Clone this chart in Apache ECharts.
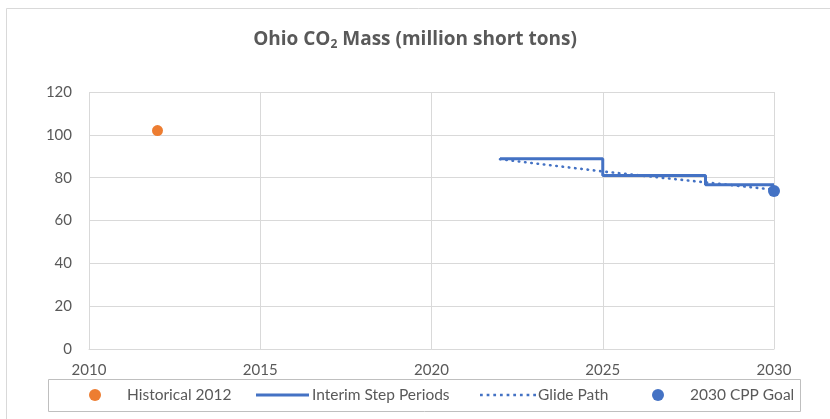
<!DOCTYPE html>
<html>
<head>
<meta charset="utf-8">
<style>
  html, body { margin: 0; padding: 0; background: #ffffff; }
  #chart { width: 830px; height: 419px; }
</style>
<script src="https://cdn.jsdelivr.net/npm/echarts@6/dist/echarts.min.js"></script>
</head>
<body>
<div id="chart"></div>
<script>
// Ohio CO2 mass: 2012 baseline, interim step periods, glide path and 2030 goal
const historicalYears = [2012];
const historicalValues = [102];

const stepYears = [2022, 2025, 2028, 2030];
const stepValues = [88.8, 81.0, 76.7, 76.7];

const glideYears = [2022, 2025, 2028, 2030];
const glideValues = [88.6, 82.9, 77.8, 74.4];

const goalYears = [2030];
const goalValues = [73.8];

const xTicks = [2010, 2015, 2020, 2025, 2030];
const yTicks = [0, 20, 40, 60, 80, 100, 120];

const seriesNames = ['Historical 2012', 'Interim Step Periods', 'Glide Path', '2030 CPP Goal'];

const zip = (xs, ys) => xs.map((x, i) => [x, ys[i]]);

const FONT = 'Lato, "Open Sans", sans-serif';
const TITLE_FONT = '"Open Sans", Lato, sans-serif';
const TEXT = '#595959';
const GRID = '#d9d9d9';
const ORANGE = '#ED7D31';
const BLUE = '#4472C4';
const LEGEND_FONT_SIZE = 15.5;

// legend icons: a solid bar for the step line, a row of dots for the glide path
const solidIcon = 'path://M0,0H54V3H0Z';
let dottedPath = 'path://';
for (let i = 0; i < 9; i++) {
  const x = i * 6.3;
  dottedPath += 'M' + x + ',0h2.6v2.6h-2.6Z';
}

// one legend block per entry so each sits at its own spot inside the box
function legendBlock(name, left, icon, width, height, textShift) {
  return {
    data: [{ name: name, icon: icon }],
    left: left,
    top: 387,
    itemWidth: width,
    itemHeight: height,
    padding: 0,
    selectedMode: false,
    textStyle: { fontFamily: FONT, fontSize: LEGEND_FONT_SIZE, color: TEXT, padding: [0, 0, 0, textShift] },
    z: 5
  };
}

const chart = echarts.init(document.getElementById('chart'), null, { renderer: 'canvas' });

chart.setOption({
  backgroundColor: '#ffffff',
  animation: false,
  title: {
    text: '{a|Ohio CO}{s|2}{a| Mass (million short tons)}',
    left: 'center',
    top: 22,
    textStyle: {
      fontWeight: 'bold',
      rich: {
        a: { fontFamily: TITLE_FONT, fontSize: 19, fontWeight: 'bold', color: TEXT, lineHeight: 26 },
        s: { fontFamily: TITLE_FONT, fontSize: 12, fontWeight: 'bold', color: TEXT, padding: [10, 0, 0, 0], lineHeight: 26 }
      }
    }
  },
  graphic: [
    {
      type: 'rect',
      shape: { x: 6.5, y: 8.5, width: 900, height: 500 },
      style: { fill: 'none', stroke: '#d9d9d9', lineWidth: 1 },
      silent: true, z: -1
    },
    {
      type: 'rect',
      shape: { x: 48.5, y: 379.5, width: 752, height: 32 },
      style: { fill: '#ffffff', stroke: '#bfbfbf', lineWidth: 1 },
      silent: true, z: 0
    }
  ],
  legend: [
    legendBlock(seriesNames[0], 89, 'circle', 12, 12, 21),
    legendBlock(seriesNames[1], 256, solidIcon, 53, 12, -2),
    legendBlock(seriesNames[2], 480, dottedPath, 56, 12, -3),
    legendBlock(seriesNames[3], 652, 'circle', 12, 12, 21)
  ],
  grid: { left: 89, right: 56, top: 92, bottom: 70, containLabel: false },
  xAxis: {
    type: 'value',
    min: xTicks[0],
    max: xTicks[xTicks.length - 1],
    interval: 5,
    axisLine: { show: true, onZero: false, lineStyle: { color: GRID, width: 1 } },
    axisTick: { show: false },
    splitLine: { show: true, lineStyle: { color: GRID, width: 1 } },
    axisLabel: {
      fontFamily: FONT, fontSize: 15, color: TEXT, margin: 14,
      formatter: v => String(v)
    }
  },
  yAxis: {
    type: 'value',
    min: yTicks[0],
    max: yTicks[yTicks.length - 1],
    interval: 20,
    axisLine: { show: false },
    axisTick: { show: false },
    splitLine: { show: true, lineStyle: { color: GRID, width: 1 } },
    axisLabel: { fontFamily: FONT, fontSize: 15, color: TEXT, margin: 17 }
  },
  series: [
    {
      name: seriesNames[0],
      type: 'scatter',
      data: zip(historicalYears, historicalValues),
      symbol: 'circle',
      symbolSize: 11,
      itemStyle: { color: ORANGE, opacity: 1 }
    },
    {
      name: seriesNames[1],
      type: 'line',
      step: 'end',
      data: zip(stepYears, stepValues),
      showSymbol: false,
      symbol: 'none',
      lineStyle: { color: BLUE, width: 3 },
      itemStyle: { color: BLUE },
      z: 3
    },
    {
      name: seriesNames[2],
      type: 'line',
      data: zip(glideYears, glideValues),
      showSymbol: false,
      symbol: 'none',
      lineStyle: { color: BLUE, width: 2.6, type: [0.5, 5.8], cap: 'round' },
      itemStyle: { color: BLUE },
      z: 2
    },
    {
      name: seriesNames[3],
      type: 'scatter',
      data: zip(goalYears, goalValues),
      symbol: 'circle',
      symbolSize: 12,
      itemStyle: { color: BLUE, opacity: 1 },
      z: 4
    }
  ]
});
</script>
</body>
</html>
